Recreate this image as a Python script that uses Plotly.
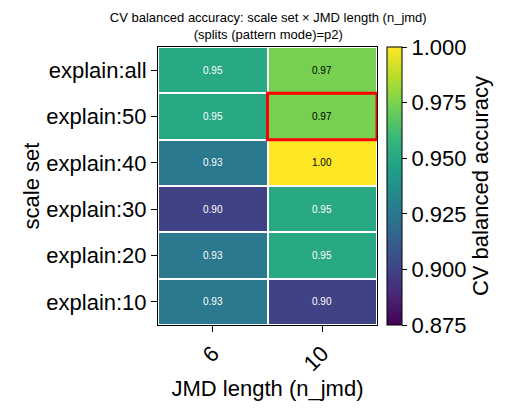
import plotly.graph_objects as go

# data (rows bottom -> top)
scale_sets = ["explain:10", "explain:20", "explain:30", "explain:40", "explain:50", "explain:all"]
jmd_lengths = ["6", "10"]
acc_6 = [0.926, 0.926, 0.900, 0.926, 0.950, 0.950]
acc_10 = [0.900, 0.950, 0.950, 1.000, 0.974, 0.974]
best_set = "explain:50"
best_jmd = "10"

z = [[a, b] for a, b in zip(acc_6, acc_10)]
zmin, zmax = 0.875, 1.0

fig = go.Figure(go.Heatmap(
    z=z, x=[0, 1], y=list(range(len(scale_sets))),
    colorscale="Viridis", zmin=zmin, zmax=zmax,
    xgap=2, ygap=2,
    colorbar=dict(
        title=dict(text="CV balanced accuracy", side="right",
                   font=dict(size=22, color="black")),
        tickvals=[0.875, 0.9, 0.925, 0.95, 0.975, 1.0],
        tickformat=".3f",
        tickfont=dict(size=22, color="black"),
        ticks="outside", ticklen=5, tickcolor="black",
        thickness=15, len=1.0, lenmode="fraction",
        x=1.046, xanchor="left", xpad=0, ypad=0,
        y=0.5, yanchor="middle",
        outlinecolor="black", outlinewidth=1,
    ),
))

# cell labels
for i, row in enumerate(z):
    for j, v in enumerate(row):
        frac = (v - zmin) / (zmax - zmin)
        fig.add_annotation(
            x=j, y=i, text=f"{v:.2f}", showarrow=False,
            font=dict(size=10, color="black" if frac > 0.7 else "white"),
        )

# highlight best cell
bi = scale_sets.index(best_set)
bj = jmd_lengths.index(best_jmd)
fig.add_shape(type="rect", xref="x", yref="y",
              x0=bj - 0.5, x1=bj + 0.5, y0=bi - 0.5, y1=bi + 0.5,
              line=dict(color="red", width=3))

fig.update_layout(
    width=511, height=411,
    margin=dict(l=158, r=134, t=47, b=86, autoexpand=False),
    paper_bgcolor="white", plot_bgcolor="white",
    font=dict(family="Liberation Sans, Arial, sans-serif", color="black"),
    title=dict(
        text="CV balanced accuracy: scale set × JMD length (n_jmd)<br>(splits (pattern mode)=p2)",
        x=0.525, xanchor="center", y=0.946, yanchor="middle",
        font=dict(size=13),
    ),
    showlegend=False,
)
fig.update_xaxes(
    tickvals=[0, 1], ticktext=jmd_lengths, tickangle=-45,
    tickfont=dict(size=22), ticks="outside", ticklen=6, tickcolor="black",
    title=dict(text="JMD length (n_jmd)", font=dict(size=22), standoff=0),
    showline=True, linecolor="black", linewidth=1, mirror=True,
    range=[-0.5, 1.5], showgrid=False, zeroline=False, automargin=False,
)
fig.update_yaxes(
    tickvals=list(range(len(scale_sets))), ticktext=scale_sets,
    tickfont=dict(size=22), ticks="outside", ticklen=6, tickcolor="black",
    title=dict(text="scale set", font=dict(size=22), standoff=0),
    showline=True, linecolor="black", linewidth=1, mirror=True,
    range=[-0.5, len(scale_sets) - 0.5], showgrid=False, zeroline=False, automargin=False,
)

fig.write_html("out.html", config={"displayModeBar": False},
               post_script="document.body.style.margin='0';")
